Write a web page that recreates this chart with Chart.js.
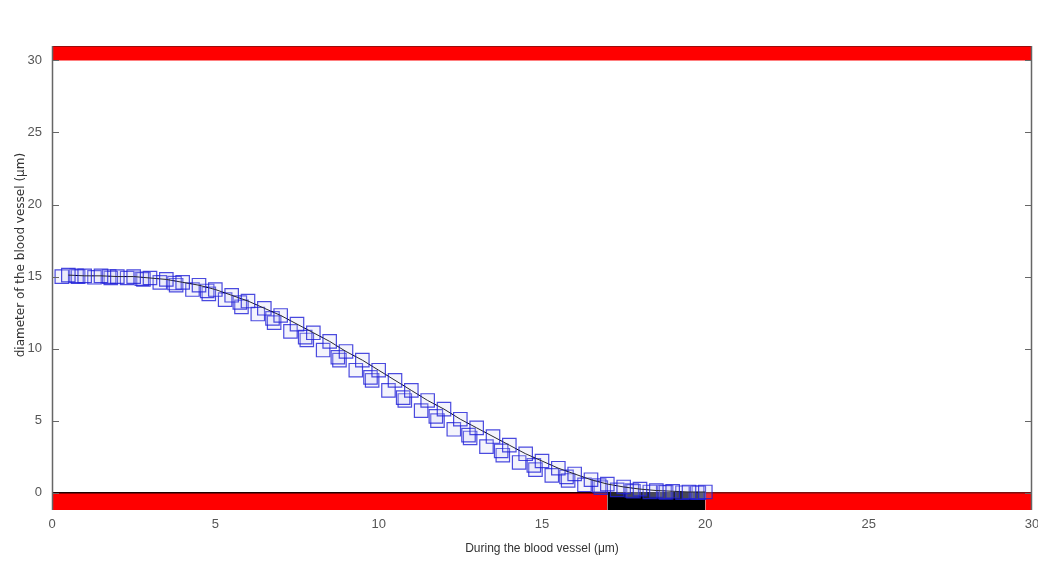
<!DOCTYPE html>
<html>
<head>
<meta charset="utf-8">
<script src="https://cdn.jsdelivr.net/npm/chart.js@4/dist/chart.umd.min.js"></script>
<style>
  html,body{margin:0;padding:0;background:#fff;}
  #c{display:block;}
</style>
</head>
<body>
<canvas id="c" width="1038" height="576"></canvas>
<script>
// profile of the vessel diameter along the vessel
const xMain=[0.5,1,1.5,2,2.5,3,3.5,4,4.5,5,5.5,6,6.5,7,7.5,8,8.5,9,9.5,10,10.5,11,11.5,12,12.5,13,13.5,14,14.5,15,15.5,16,16.5,17,17.5,18,18.5,19,19.5,20];
const yMain=[15.1,15.05,15.05,15.0,15.0,14.9,14.8,14.6,14.4,14.1,13.7,13.3,12.8,12.3,11.7,11.1,10.5,9.8,9.2,8.5,7.8,7.1,6.4,5.8,5.1,4.5,3.9,3.3,2.7,2.2,1.7,1.3,0.9,0.6,0.4,0.25,0.15,0.1,0.05,0.05];
const xLow=[0.3,0.8,1.3,1.8,2.3,2.8,3.3,3.8,4.3,4.8,5.3,5.8,6.3,6.8,7.3,7.8,8.3,8.8,9.3,9.8,10.3,10.8,11.3,11.8,12.3,12.8,13.3,13.8,14.3,14.8,15.3,15.8,16.3,16.8,17.3,17.8,18.3,18.8,19.3,19.8];
const yLow=[15.0,15.0,14.95,14.9,14.9,14.8,14.6,14.4,14.1,13.8,13.4,12.9,12.4,11.8,11.2,10.6,9.9,9.2,8.5,7.8,7.1,6.4,5.7,5.0,4.4,3.8,3.2,2.6,2.1,1.6,1.2,0.85,0.55,0.35,0.2,0.1,0.05,0.02,0,0];
const xMid=[0.75,1.75,2.75,3.75,4.75,5.75,6.75,7.75,8.75,9.75,10.75,11.75,12.75,13.75,14.75,15.75,16.75,17.75,18.75,19.75];
const yMid=[15.05,15.0,14.85,14.55,14.0,13.2,12.1,10.8,9.4,8.0,6.6,5.3,4.0,2.9,1.9,1.1,0.5,0.15,0.05,0];

// vessel walls
const wallTopX=[0,30], wallTopY=31, wallTopBase=30;
const wallLeftX=[0,17], wallRightX=[20,30], plugX=[17,20];
const wallBottomY=0, wallBottomBase=-1.2;
const xTicks=[0,5,10,15,20,25,30];
const yTicks=[0,5,10,15,20,25,30];

const pts=(xs,ys)=>xs.map((x,i)=>({x:x,y:ys[i]}));
const flat=(xs,y)=>xs.map(x=>({x:x,y:y}));

const tickFont={family:'"Liberation Sans Narrow","Liberation Sans",Arial,sans-serif',size:13};

const band=(xs,y,base,color,edge)=>({
  type:'line',data:flat(xs,y),fill:{value:base},backgroundColor:color,
  borderColor:edge,borderWidth:1.5,pointRadius:0,order:5
});

const marks=(xs,ys,order,line)=>({
  data:pts(xs,ys),showLine:line,borderColor:'#000',borderWidth:1,
  pointStyle:'rect',pointRadius:9.5,pointBorderColor:'rgba(30,30,215,0.8)',
  pointBackgroundColor:'rgba(200,200,240,0.2)',pointBorderWidth:1.2,order:order
});

// frame, inward ticks and x tick labels (labels here so the last one may overhang the edge)
const innerTicks={
  id:'innerTicks',
  afterDraw(chart){
    const ctx=chart.ctx, a=chart.chartArea, x=chart.scales.x, y=chart.scales.y;
    ctx.save();
    ctx.strokeStyle='#666';ctx.lineWidth=1.5;
    ctx.beginPath();
    ctx.moveTo(a.left+0.5,a.top);ctx.lineTo(a.left+0.5,a.bottom);
    ctx.moveTo(a.right-0.5,a.top);ctx.lineTo(a.right-0.5,a.bottom);
    ctx.stroke();
    ctx.lineWidth=1;
    ctx.beginPath();
    yTicks.forEach(v=>{
      const p=Math.round(y.getPixelForValue(v))+0.5;
      ctx.moveTo(a.left,p);ctx.lineTo(a.left+7,p);
      ctx.moveTo(a.right,p);ctx.lineTo(a.right-7,p);
    });
    ctx.stroke();
    ctx.fillStyle='#555';
    ctx.font='13px '+tickFont.family;
    ctx.textAlign='center';ctx.textBaseline='top';
    xTicks.forEach(v=>{ctx.fillText(String(v),x.getPixelForValue(v),a.bottom+8);});
    ctx.restore();
  }
};

new Chart(document.getElementById('c'),{
  type:'scatter',
  data:{datasets:[
    band(wallTopX,wallTopY,wallTopBase,'#ff0000','#7a1010'),
    band(wallLeftX,wallBottomY,wallBottomBase,'#ff0000','#200000'),
    band(plugX,wallBottomY,wallBottomBase,'#000000','#000000'),
    band(wallRightX,wallBottomY,wallBottomBase,'#ff0000','#7a1010'),
    marks(xLow,yLow,3,false),
    marks(xMid,yMid,2,false),
    marks(xMain,yMain,1,true)
  ]},
  options:{
    responsive:false,animation:false,
    layout:{autoPadding:false,padding:{top:46,right:6,left:0,bottom:16}},
    plugins:{legend:{display:false},tooltip:{enabled:false}},
    scales:{
      x:{type:'linear',min:0,max:30,
        afterBuildTicks:s=>{s.ticks=xTicks.map(v=>({value:v}));},
        afterFit:s=>{s.height=50;},
        grid:{display:false},border:{display:false},
        ticks:{display:false},
        title:{display:true,text:'During the blood vessel (\u03bcm)',color:'#333',
          font:{family:'"Liberation Sans Narrow","Liberation Sans",Arial,sans-serif',size:12},padding:{top:0}}},
      y:{type:'linear',min:-1.2,max:31,
        afterBuildTicks:s=>{s.ticks=yTicks.map(v=>({value:v}));},
        afterFit:s=>{s.width=52;},
        grid:{display:false},border:{display:false},
        ticks:{color:'#555',font:tickFont,padding:2},
        title:{display:true,text:'\u00a0'.repeat(12)+'diameter of the blood vessel (\u03bcm)',color:'#333',
          font:{family:'"DejaVu Sans",Arial,sans-serif',size:12},padding:{top:14,bottom:0}}}
    }
  },
  plugins:[innerTicks]
});
</script>
</body>
</html>
